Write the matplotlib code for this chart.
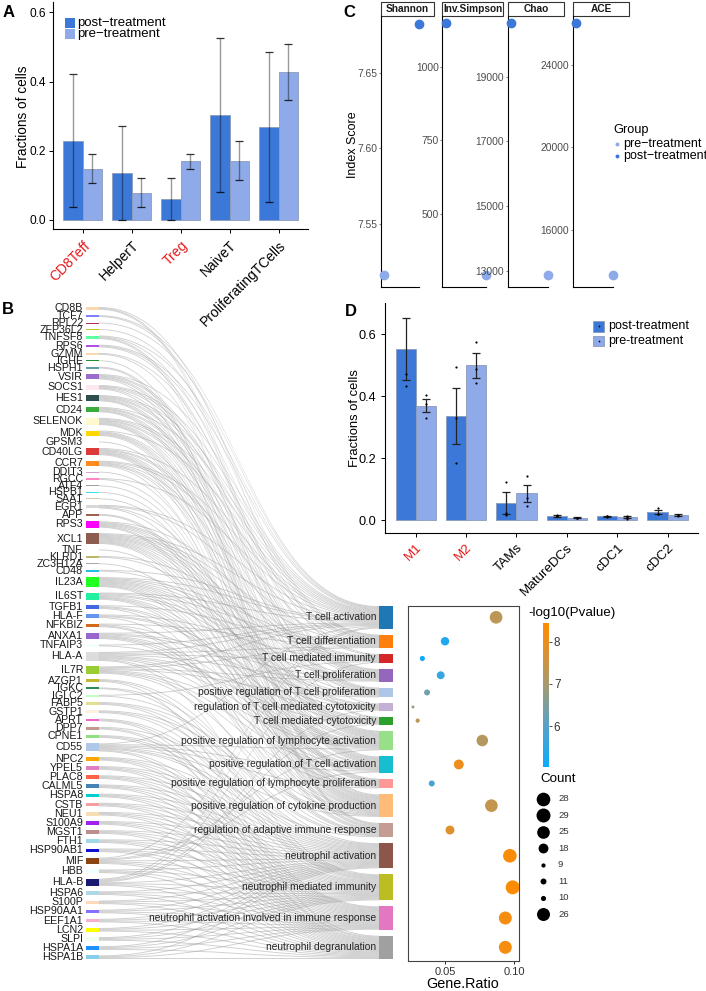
import numpy as np
import matplotlib
matplotlib.use('Agg')
import matplotlib.pyplot as plt
from matplotlib.patches import Rectangle, PathPatch
from matplotlib.path import Path
from matplotlib.colors import LinearSegmentedColormap

plt.rcParams['font.family'] = ['Liberation Sans', 'DejaVu Sans']

W, H = 706, 991
POST = '#3c78d8'
PRE = '#8eaae8'
RED = '#e41a1c'
EDGE = '#8c9bb8'

# ---------------- panel A : T cell fractions
a_cells = ['CD8Teff', 'HelperT', 'Treg', 'NaiveT', 'ProliferatingTCells']
a_red = ['CD8Teff', 'Treg']
a_post = [0.228, 0.135, 0.060, 0.303, 0.268]
a_post_lo = [0.037, 0.0, 0.0, 0.082, 0.051]
a_post_hi = [0.422, 0.271, 0.120, 0.525, 0.485]
a_pre = [0.148, 0.079, 0.169, 0.171, 0.428]
a_pre_lo = [0.107, 0.037, 0.147, 0.115, 0.348]
a_pre_hi = [0.190, 0.120, 0.190, 0.229, 0.508]

# ---------------- panel C : diversity indices
c_metrics = ['Shannon', 'Inv.Simpson', 'Chao', 'ACE']
c_pre = [7.516, 294, 12858, 13804]
c_post = [7.682, 1147, 20651, 26022]
c_pre_first = [True, False, False, False]
c_ticks = [[7.55, 7.60, 7.65], [500, 750, 1000],
           [13000, 15000, 17000, 19000], [16000, 20000, 24000]]
c_ylims = [(7.508, 7.6876), (253, 1172), (12487, 20886), (13222, 26390)]

# ---------------- panel D : myeloid fractions
d_cells = ['M1', 'M2', 'TAMs', 'MatureDCs', 'cDC1', 'cDC2']
d_red = ['M1', 'M2']
d_post = [0.553, 0.336, 0.054, 0.013, 0.012, 0.025]
d_post_se = [0.100, 0.090, 0.035, 0.002, 0.002, 0.007]
d_pre = [0.369, 0.500, 0.086, 0.007, 0.009, 0.015]
d_pre_se = [0.021, 0.040, 0.028, 0.002, 0.003, 0.003]
d_post_pts = [[0.471, 0.434], [0.494, 0.331, 0.185], [0.122, 0.024, 0.015],
              [0.012, 0.014, 0.015], [0.011, 0.013, 0.012], [0.040, 0.020, 0.018]]
d_pre_pts = [[0.404, 0.374, 0.329], [0.574, 0.488, 0.442], [0.142, 0.072, 0.045],
             [0.006, 0.008, 0.007], [0.004, 0.013, 0.010], [0.017, 0.014, 0.016]]

# ---------------- panel B : genes -> GO terms
genes = ['CD8B', 'TCF7', 'RPL22', 'ZFP36L2', 'TNFSF8', 'RPS6', 'GZMM', 'IGHE', 'HSPH1',
         'VSIR', 'SOCS1', 'HES1', 'CD24', 'SELENOK', 'MDK', 'GPSM3', 'CD40LG', 'CCR7',
         'DDIT3', 'RGCC', 'ATF4', 'HSPB1', 'SAA1', 'EGR1', 'APP', 'RPS3', 'XCL1', 'TNF',
         'KLRD1', 'ZC3H12A', 'CD48', 'IL23A', 'IL6ST', 'TGFB1', 'HLA-F', 'NFKBIZ', 'ANXA1',
         'TNFAIP3', 'HLA-A', 'IL7R', 'AZGP1', 'IGKC', 'IGLC2', 'FABP5', 'GSTP1', 'APRT',
         'DPP7', 'CPNE1', 'CD55', 'NPC2', 'YPEL5', 'PLAC8', 'CALML5', 'HSPA8', 'CSTB',
         'NEU1', 'S100A9', 'MGST1', 'FTH1', 'HSP90AB1', 'MIF', 'HBB', 'HLA-B', 'HSPA6',
         'S100P', 'HSP90AA1', 'EEF1A1', 'LCN2', 'SLPI', 'HSPA1A', 'HSPA1B']
gene_colors = ['#f9d8b0', '#8080ff', '#b0305a', '#c8c020', '#60ffa0', '#b050e0', '#f9d8b0',
               '#209030', '#60a0a0', '#9a6ccc', '#fde8ee', '#2f4f4f', '#3aaa3a', '#fffacd',
               '#ffd700', '#fffff0', '#dc3a3a', '#ff8a20', '#d8a0d8', '#ff88c0', '#a0a0a0',
               '#40e0f0', '#e0c8b0', '#d8d8d8', '#a06050', '#ff00ff', '#8c5c50', '#00bfff',
               '#bdb76b', '#a9a9a9', '#20c0e0', '#20ff20', '#20f0a0', '#4169e1', '#6495ed',
               '#d2691e', '#9966cc', '#e0ffff', '#dcdcdc', '#9acd32', '#c0b830', '#2e8b57',
               '#c0ffc0', '#e0e090', '#fdf0e0', '#ee66cc', '#c09a90', '#90e080', '#b0c8e8',
               '#ffa500', '#e080c0', '#ff6347', '#4682b4', '#00ced1', '#f4a0a0', '#f5deb3',
               '#a020f0', '#bc8f8f', '#a0d8e8', '#1010d0', '#8b4513', '#f0ffff', '#191970',
               '#add8e6', '#ffdab9', '#8470ff', '#f8b0d0', '#ffff00', '#f0fff0', '#1e90ff',
               '#87ceeb']
NEUT = [12, 13, 14, 15]
gene_links = [
    [2, 5, 6], [0, 1], [0], [1], [0, 3, 7, 8], [0, 1, 3], [2, 6], [11], [10, 11],
    [0, 3, 4, 7, 8, 11], [0, 1, 3, 7, 10], [0, 1, 3, 4, 7, 8, 9], [0, 3, 4, 7, 8, 9],
    [0, 1, 3, 4, 7, 8, 9, 10], [0, 7, 8, 9, 10, 11], [10], [0, 3, 4, 7, 8, 9, 10, 11],
    [0, 1, 4, 7, 8, 11], [10], [0, 10], [10], [10], [10], [0, 1, 7, 10], [10, 11],
    [2, 5, 6, 7, 8, 10, 11], [0, 1, 2, 3, 4, 5, 6, 7, 8, 9, 10, 11], [10], [2, 6], [10],
    [0, 5], [0, 1, 2, 3, 4, 5, 6, 7, 8, 9, 10], [0, 1, 3, 4, 7, 8, 9, 10], [1, 7, 8, 11],
    [2, 5, 6, 11], [1, 7, 10, 11], [0, 3, 4, 7, 8, 9, 10], [0, 7],
    [0, 1, 2, 3, 5, 6, 7, 8, 11, 13], [0, 1, 3, 4, 7, 8, 9, 10], [12, 13, 15], [11, 13],
    [2, 11], [10, 12, 13], [10, 12, 13], [13, 14, 15], [12, 14, 15], [12, 13, 14],
    [0, 7, 8, 9, 10, 11, 12, 14, 15],
    NEUT, NEUT, NEUT, NEUT, NEUT, NEUT, NEUT, NEUT, NEUT, NEUT, NEUT,
    [0, 7, 8, 12, 13, 14, 15], NEUT, [0, 2, 5, 6, 12, 13, 14, 15],
    NEUT, NEUT, NEUT, NEUT, NEUT, NEUT, NEUT, NEUT]
pathways = ['T cell activation', 'T cell differentiation', 'T cell mediated immunity',
            'T cell proliferation', 'positive regulation of T cell proliferation',
            'regulation of T cell mediated cytotoxicity', 'T cell mediated cytotoxicity',
            'positive regulation of lymphocyte activation',
            'positive regulation of T cell activation',
            'positive regulation of lymphocyte proliferation',
            'positive regulation of cytokine production',
            'regulation of adaptive immune response', 'neutrophil activation',
            'neutrophil mediated immunity',
            'neutrophil activation involved in immune response', 'neutrophil degranulation']
path_colors = ['#1f77b4', '#ff7f0e', '#d62728', '#9467bd', '#aec7e8', '#c5b0d5', '#2ca02c',
               '#98df8a', '#17becf', '#ff9896', '#ffbb78', '#c49c94', '#8c564b', '#bcbd22',
               '#e377c2', '#a0a0a0']
path_ratio = [0.087, 0.050, 0.0336, 0.0469, 0.037, 0.0268, 0.0302, 0.077, 0.060, 0.0404,
              0.0836, 0.0536, 0.097, 0.099, 0.0937, 0.0937]
path_logp = [7.3, 5.3, 5.1, 5.6, 6.3, 6.8, 7.3, 7.2, 8.0, 5.8, 7.4, 7.8, 8.3, 8.4, 8.2, 8.2]
path_count = [25, 15, 10, 14, 11, 8, 9, 22, 18, 11, 25, 16, 28, 29, 26, 26]
count_legend = [28, 29, 25, 18, 9, 11, 10, 26]

fig = plt.figure(figsize=(W / 100, H / 100), dpi=100)


def px_axes(l, t, r, b):
    return fig.add_axes([l / W, 1 - b / H, (r - l) / W, (b - t) / H])


def classic(ax, lw=0.8):
    for s in ['top', 'right']:
        ax.spines[s].set_visible(False)
    for s in ['left', 'bottom']:
        ax.spines[s].set_linewidth(lw)
        ax.spines[s].set_color('black')


def dot_size(c):
    return 4.6 * (c - 7)


# ---------------- A
ax = px_axes(53.3, 2, 308, 229.3)
x = np.arange(len(a_cells))
for xs, v, lo, hi, col in [(x - 0.2, a_post, a_post_lo, a_post_hi, POST),
                           (x + 0.2, a_pre, a_pre_lo, a_pre_hi, PRE)]:
    v = np.array(v)
    ax.bar(xs, v, 0.4, color=col, edgecolor=EDGE, linewidth=0.6, zorder=2)
    eb = ax.errorbar(xs, v, yerr=[v - np.array(lo), np.array(hi) - v], fmt='none',
                     ecolor=(0, 0, 0, 0.4), elinewidth=1, capsize=3, capthick=0.9, zorder=3)
    for c in eb[1]:
        c.set_color((0, 0, 0, 0.8))
        c.set_markeredgecolor((0, 0, 0, 0.8))
ax.set_xlim(-0.6, 4.6)
ax.set_ylim(-0.027, 0.63)
ax.set_yticks([0, 0.2, 0.4, 0.6], ['0.0', '0.2', '0.4', '0.6'])
ax.set_xticks(x, a_cells, rotation=45, ha='right', rotation_mode='anchor')
ax.tick_params(labelsize=10, length=3, width=0.7, colors='black')
ax.tick_params(axis='y', labelsize=8.6, pad=2.5)
for lab in ax.get_xticklabels():
    lab.set_color(RED if lab.get_text() in a_red else 'black')
classic(ax)

# ---------------- C
c_left = [380.7, 442.3, 507.7, 572.7]
c_right = [434, 503.3, 564, 629.3]
for k in range(4):
    ax = px_axes(c_left[k], 15.7, c_right[k], 287.3)
    xpre, xpost = (1, 2) if c_pre_first[k] else (2, 1)
    ax.scatter([xpre], [c_pre[k]], s=36, color=PRE, zorder=3, clip_on=False)
    ax.scatter([xpost], [c_post[k]], s=36, color=POST, zorder=3, clip_on=False)
    ax.set_xlim(0.9, 2.45)
    ax.set_ylim(c_ylims[k])
    fmt = '{:.2f}' if k == 0 else '{:d}'
    ax.set_yticks(c_ticks[k], [fmt.format(t) for t in c_ticks[k]])
    ax.set_xticks([])
    ax.tick_params(axis='y', labelsize=7.4, labelcolor='#4d4d4d', color='#4d4d4d',
                   length=1.5, width=0.5, pad=1)
    classic(ax, 0.8)
    ax.spines['bottom'].set_bounds(0.9, 2)
    ax.add_patch(Rectangle((0, 1), 1, 14 / 271.6, transform=ax.transAxes,
                           facecolor='white', edgecolor='#333333', lw=0.8, clip_on=False))
    ax.text(0.5, 1 + 7 / 271.6, c_metrics[k], transform=ax.transAxes, ha='center',
            va='center', fontsize=7.3, fontweight='bold', color='#1a1a1a')

# ---------------- D
ax = px_axes(385, 303.4, 698.3, 532.7)
x = np.arange(len(d_cells))
for xs, v, se, pts, col in [(x - 0.2, d_post, d_post_se, d_post_pts, POST),
                            (x + 0.2, d_pre, d_pre_se, d_pre_pts, PRE)]:
    ax.bar(xs, v, 0.4, color=col, edgecolor=EDGE, linewidth=0.6, zorder=2)
    ax.errorbar(xs, v, yerr=se, fmt='none', ecolor='#222222', elinewidth=0.9,
                capsize=3.2, capthick=0.9, zorder=3)
    for i, p in enumerate(pts):
        ax.scatter([xs[i]] * len(p), p, s=2.5, color='black', zorder=4, linewidths=0)
ax.set_xlim(-0.61, 5.61)
ax.set_ylim(-0.041, 0.70)
ax.set_yticks([0, 0.2, 0.4, 0.6], ['0.0', '0.2', '0.4', '0.6'])
ax.set_xticks(x, d_cells, rotation=45, ha='right', rotation_mode='anchor')
ax.tick_params(labelsize=9.6, length=3, width=0.7, colors='black')
ax.tick_params(axis='y', labelsize=9.2)
for lab in ax.get_xticklabels():
    lab.set_color(RED if lab.get_text() in d_red else 'black')
classic(ax)

# ---------------- B : sankey
gap_g = 6.2
gene_top = []
y = 0.0
for links in gene_links:
    gene_top.append(y)
    y += len(links) + gap_g
gene_total = y - gap_g
path_n = [0] * len(pathways)
for links in gene_links:
    for p in links:
        path_n[p] += 1
gap_p = 6.7
path_total = sum(path_n) + gap_p * (len(pathways) - 1)
path_top = []
y = gene_total - path_total
for n in path_n:
    path_top.append(y)
    y += n + gap_p

GX0, GX1, PX0, PX1 = 86, 99, 379, 393
sk_top, sk_bot = 307, 959
axs = px_axes(GX0, sk_top, PX1, sk_bot)
axs.set_xlim(GX0, PX1)
axs.set_ylim(gene_total, 0)
axs.axis('off')

path_cur = list(path_top)
xm = (GX1 + PX0) / 2
for i, links in enumerate(gene_links):
    gc = gene_top[i]
    for p in sorted(links):
        y0, y1 = gc, path_cur[p]
        verts = [(GX1, y0), (xm, y0), (xm, y1), (PX0, y1), (PX0, y1 + 1),
                 (xm, y1 + 1), (xm, y0 + 1), (GX1, y0 + 1), (GX1, y0)]
        codes = [Path.MOVETO, Path.CURVE4, Path.CURVE4, Path.CURVE4, Path.LINETO,
                 Path.CURVE4, Path.CURVE4, Path.CURVE4, Path.CLOSEPOLY]
        axs.add_patch(PathPatch(Path(verts, codes), facecolor='#999999', alpha=0.48,
                                edgecolor='none', zorder=1))
        gc += 1
        path_cur[p] += 1

for i, g in enumerate(genes):
    n = len(gene_links[i])
    axs.add_patch(Rectangle((GX0, gene_top[i]), GX1 - GX0, n, facecolor=gene_colors[i],
                            edgecolor='none', zorder=2))
    axs.text(GX0 - 3, gene_top[i] + n / 2, g, ha='right', va='center', fontsize=7.7,
             color='#1a1a1a', clip_on=False)
for p, name in enumerate(pathways):
    axs.add_patch(Rectangle((PX0, path_top[p]), PX1 - PX0, path_n[p],
                            facecolor=path_colors[p], edgecolor='none', zorder=2))
    axs.text(PX0 - 3, path_top[p] + path_n[p] / 2, name, ha='right', va='center',
             fontsize=7.4, color='#262626', zorder=3)

# dot plot sharing the sankey vertical scale
scale = (sk_bot - sk_top) / gene_total
dt, db = 606, 961
axd = px_axes(408, dt, 519, db)
cmap = LinearSegmentedColormap.from_list(
    'pv', [(0, '#0aabff'), (0.28, '#55a2c8'), (0.58, '#a89a6e'), (0.87, '#ec8e1e'), (1, '#ff8c00')])
path_mid = [path_top[p] + path_n[p] / 2 for p in range(len(pathways))]
sc = axd.scatter(path_ratio, path_mid, s=[dot_size(c) for c in path_count], c=path_logp,
                 cmap=cmap, vmin=5.03, vmax=8.44, linewidths=0, zorder=3)
axd.set_xlim(0.0232, 0.1036)
axd.set_ylim((db - sk_top) / scale, (dt - sk_top) / scale)
axd.set_yticks([])
axd.set_xticks([0.05, 0.10], ['0.05', '0.10'])
axd.tick_params(axis='x', labelsize=8, labelcolor='#333333', length=2.5, width=0.6, pad=2)
for s in axd.spines.values():
    s.set_linewidth(0.8)
    s.set_color('#444444')

cax = px_axes(542.7, 623, 549, 767)
cb = fig.colorbar(sc, cax=cax)
cb.set_ticks([6, 7, 8])
cb.outline.set_visible(False)
cax.tick_params(length=2, width=0.6, labelsize=8.4, colors='#333333', pad=1.5)

# ---------------- overlay texts and legends
ao = fig.add_axes([0, 0, 1, 1])
ao.set_xlim(0, W)
ao.set_ylim(H, 0)
ao.axis('off')
ao.patch.set_alpha(0)

for lab, xx, yy in [('A', 3, 12.5), ('B', 2, 310), ('C', 343, 12.5), ('D', 345, 311)]:
    ao.text(xx, yy, lab, fontsize=12, fontweight='bold', ha='left', va='center')

ao.text(23, 117, 'Fractions of cells', rotation=90, ha='center', va='center', fontsize=9.8)
ao.text(355, 418, 'Fractions of cells', rotation=90, ha='center', va='center', fontsize=9.4)
ao.text(353, 145, 'Index Score', rotation=90, ha='center', va='center', fontsize=9)
ao.text(463, 984, 'Gene.Ratio', ha='center', va='center', fontsize=10.4)
ao.text(528, 613, '-log10(Pvalue)', ha='left', va='center', fontsize=9.6)
ao.text(540, 779, 'Count', ha='left', va='center', fontsize=9.6)

# legend A
for yy, col, lab in [(18.3, POST, 'post\u2212treatment'), (29.3, PRE, 'pre\u2212treatment')]:
    ao.add_patch(Rectangle((65, yy), 10, 10, facecolor=col, edgecolor='none'))
    ao.text(77.5, yy + 5, lab, ha='left', va='center', fontsize=9.5)

# legend C
ao.text(613, 130, 'Group', ha='left', va='center', fontsize=9.2)
for yy, col, lab in [(144, PRE, 'pre\u2212treatment'), (156, POST, 'post\u2212treatment')]:
    ao.scatter([617.3], [yy], s=8, color=col, linewidths=0)
    ao.text(623.3, yy, lab, ha='left', va='center', fontsize=9)

# legend D
for yy, col, lab in [(321, POST, 'post-treatment'), (335.7, PRE, 'pre-treatment')]:
    ao.add_patch(Rectangle((593.3, yy), 11, 10.5, facecolor=col, edgecolor=EDGE, lw=0.6))
    ao.scatter([598.8], [yy + 5.2], s=1.5, color='black', linewidths=0)
    ao.text(608.3, yy + 5, lab, ha='left', va='center', fontsize=9)

# count legend
for j, c in enumerate(count_legend):
    yy = 798.7 + j * 16.5
    ao.scatter([543.3], [yy], s=dot_size(c), color='black', linewidths=0)
    ao.text(558, yy, str(c), ha='left', va='center', fontsize=6.8, color='#333333')

fig.savefig('out.png', dpi=100)
